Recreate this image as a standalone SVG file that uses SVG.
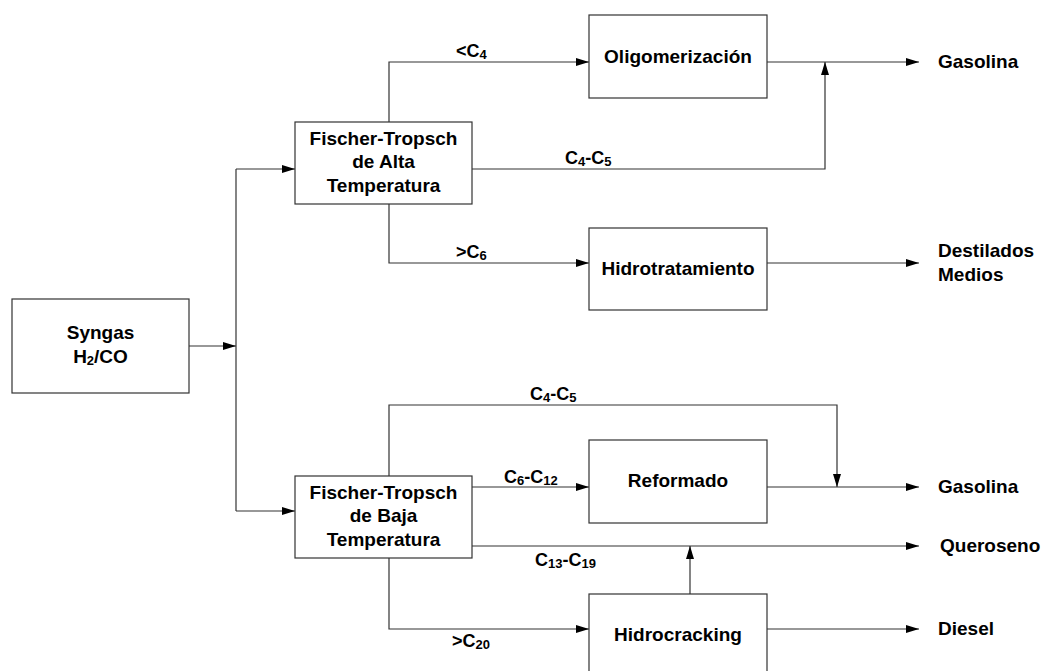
<svg xmlns="http://www.w3.org/2000/svg" width="1042" height="671" viewBox="0 0 1042 671">
<style>
.box{fill:#fff;stroke:#333;stroke-width:1.2}
.ln{fill:none;stroke:#333;stroke-width:1.2}
.t{font-family:"Liberation Sans",Arial,sans-serif;font-weight:bold;font-size:19px;fill:#000}
.c{text-anchor:middle}
.l{font-family:"Liberation Sans",Arial,sans-serif;font-weight:bold;font-size:18px;fill:#000}
.s{font-size:13px}
</style>
<defs>
<marker id="ah" markerUnits="userSpaceOnUse" markerWidth="13" markerHeight="8" refX="13" refY="4" orient="auto">
<path d="M0,0 L13,4 L0,8 z" fill="#000"/>
</marker>
</defs>
<rect width="1042" height="671" fill="#fff"/>
<g id="connectors">
<path class="ln" d="M189,346 H236" marker-end="url(#ah)"/>
<path class="ln" d="M236,169 V511"/>
<path class="ln" d="M236,169 H295" marker-end="url(#ah)"/>
<path class="ln" d="M236,511 H295" marker-end="url(#ah)"/>
<path class="ln" d="M389,122 V62 H589" marker-end="url(#ah)"/>
<path class="ln" d="M472,169 H825 V62" marker-end="url(#ah)"/>
<path class="ln" d="M767,62 H919" marker-end="url(#ah)"/>
<path class="ln" d="M389,204 V263 H589" marker-end="url(#ah)"/>
<path class="ln" d="M767,263 H919" marker-end="url(#ah)"/>
<path class="ln" d="M389,476 V405 H837 V487" marker-end="url(#ah)"/>
<path class="ln" d="M472,487 H589" marker-end="url(#ah)"/>
<path class="ln" d="M767,487 H919" marker-end="url(#ah)"/>
<path class="ln" d="M472,546 H919" marker-end="url(#ah)"/>
<path class="ln" d="M690,594 V546" marker-end="url(#ah)"/>
<path class="ln" d="M389,558 V629 H589" marker-end="url(#ah)"/>
<path class="ln" d="M767,629 H919" marker-end="url(#ah)"/>
</g>
<g id="labels">
<text class="l" x="456" y="57">&lt;C<tspan class="s" dy="2">4</tspan></text>
<text class="l" x="565" y="164">C<tspan class="s" dy="2">4</tspan><tspan dy="-2">-C</tspan><tspan class="s" dy="2">5</tspan></text>
<text class="l" x="456" y="258">&gt;C<tspan class="s" dy="2">6</tspan></text>
<text class="l" x="530" y="400">C<tspan class="s" dy="2">4</tspan><tspan dy="-2">-C</tspan><tspan class="s" dy="2">5</tspan></text>
<text class="l" x="504" y="483">C<tspan class="s" dy="2">6</tspan><tspan dy="-2">-C</tspan><tspan class="s" dy="2">12</tspan></text>
<text class="l" x="535" y="566">C<tspan class="s" dy="2">13</tspan><tspan dy="-2">-C</tspan><tspan class="s" dy="2">19</tspan></text>
<text class="l" x="452" y="647">&gt;C<tspan class="s" dy="2">20</tspan></text>
</g>
<g id="syngas">
<rect class="box" x="12" y="299" width="177" height="94"/>
<text class="t c" x="100.5" y="339">Syngas</text>
<text class="t c" x="100.5" y="363">H<tspan class="s" dy="2">2</tspan><tspan dy="-2">/CO</tspan></text>
</g>
<g id="ft-alta">
<rect class="box" x="295" y="122" width="177" height="82"/>
<text class="t c" x="383.5" y="145">Fischer-Tropsch</text>
<text class="t c" x="383.5" y="168">de Alta</text>
<text class="t c" x="383.5" y="192">Temperatura</text>
</g>
<g id="ft-baja">
<rect class="box" x="295" y="476" width="177" height="82"/>
<text class="t c" x="383.5" y="499">Fischer-Tropsch</text>
<text class="t c" x="383.5" y="522">de Baja</text>
<text class="t c" x="383.5" y="546">Temperatura</text>
</g>
<g id="oligomerizacion">
<rect class="box" x="589" y="15" width="178" height="83"/>
<text class="t c" x="678" y="63">Oligomerización</text>
</g>
<g id="hidrotratamiento">
<rect class="box" x="589" y="228" width="178" height="82"/>
<text class="t c" x="678" y="275">Hidrotratamiento</text>
</g>
<g id="reformado">
<rect class="box" x="589" y="440" width="178" height="83"/>
<text class="t c" x="678" y="487">Reformado</text>
</g>
<g id="hidrocracking">
<rect class="box" x="589" y="594" width="178" height="83"/>
<text class="t c" x="678" y="641">Hidrocracking</text>
</g>
<g id="outputs">
<text class="t" x="938" y="68">Gasolina</text>
<text class="t" x="938" y="257">Destilados</text>
<text class="t" x="938" y="281">Medios</text>
<text class="t" x="938" y="493">Gasolina</text>
<text class="t" x="940" y="552">Queroseno</text>
<text class="t" x="938" y="635">Diesel</text>
</g>
</svg>
